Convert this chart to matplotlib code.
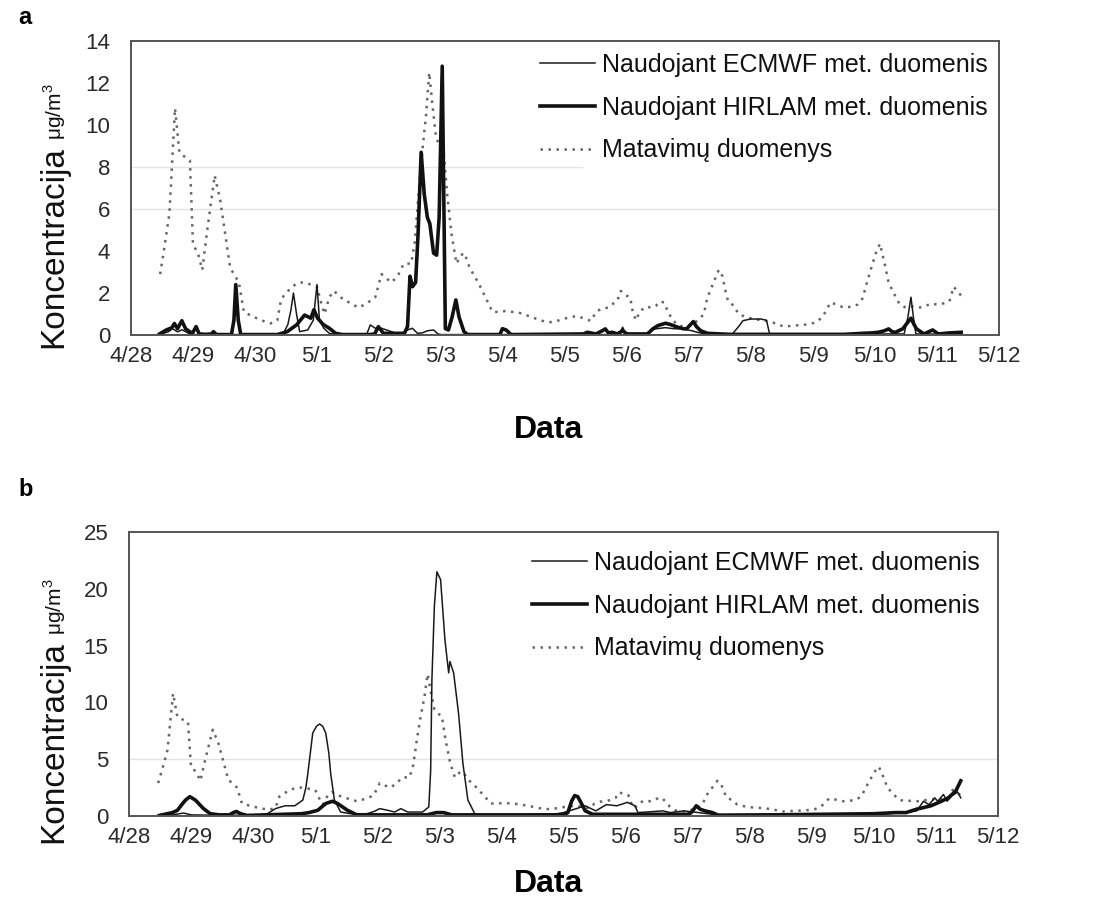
import matplotlib
matplotlib.use('Agg')
import matplotlib.pyplot as plt
from matplotlib.lines import Line2D

plt.rcParams['font.family'] = ['Liberation Sans', 'DejaVu Sans']

# ---------------- data ----------------
day_labels = ['4/28', '4/29', '4/30', '5/1', '5/2', '5/3', '5/4', '5/5',
              '5/6', '5/7', '5/8', '5/9', '5/10', '5/11', '5/12']
legend_labels = ['Naudojant ECMWF met. duomenis',
                 'Naudojant HIRLAM met. duomenis',
                 'Matavimų duomenys']

# measurements (days after 4/28 00:00)
meas_t = [0.47, 0.54, 0.62, 0.71, 0.78, 0.86, 0.95, 1.0, 1.08, 1.15, 1.23, 1.35, 1.44, 1.52,
          1.6, 1.68, 1.74, 1.82, 1.95, 2.1, 2.25, 2.36, 2.42, 2.5, 2.6, 2.7, 2.8, 2.9, 3.0,
          3.06, 3.12, 3.2, 3.27, 3.35, 3.42, 3.55, 3.67, 3.8, 3.94, 4.04, 4.12, 4.2, 4.3, 4.4,
          4.52, 4.58, 4.64, 4.7, 4.76, 4.81, 4.86, 4.92, 4.98, 5.04, 5.1, 5.17, 5.25, 5.32,
          5.38, 5.45, 5.52, 5.6, 5.7, 5.83, 5.95, 6.05, 6.15, 6.27, 6.37, 6.47, 6.6, 6.73,
          6.85, 6.96, 7.08, 7.19, 7.3, 7.42, 7.5, 7.6, 7.7, 7.78, 7.84, 7.9, 7.97, 8.05, 8.1,
          8.15, 8.2, 8.3, 8.4, 8.47, 8.53, 8.6, 8.66, 8.72, 8.8, 8.9, 9.0, 9.1, 9.18, 9.24,
          9.29, 9.34, 9.41, 9.48, 9.54, 9.58, 9.63, 9.72, 9.8, 9.92, 10.05, 10.2, 10.35,
          10.53, 10.7, 10.9, 11.05, 11.15, 11.22, 11.28, 11.38, 11.5, 11.62, 11.72, 11.8,
          11.87, 11.94, 12.02, 12.08, 12.14, 12.22, 12.3, 12.4, 12.5, 12.6, 12.7, 12.8,
          12.9, 13.0, 13.1, 13.2, 13.27, 13.35, 13.45]
meas_v = [2.9, 4.2, 5.8, 10.8, 8.7, 8.5, 8.3, 4.3, 3.9, 3.1, 5.0, 7.6, 6.4, 4.8,
          3.2, 2.8, 2.5, 1.1, 0.9, 0.7, 0.55, 0.7, 1.7, 2.0, 2.3, 2.5, 2.5, 2.4, 2.3,
          1.6, 1.0, 1.8, 2.1, 1.9, 1.7, 1.5, 1.3, 1.5, 1.8, 2.9, 2.7, 2.5, 2.8, 3.4,
          3.4, 4.5, 6.8, 8.8, 10.5, 12.5, 11.0, 9.4, 9.0, 8.8, 6.7, 4.8, 3.4, 3.8,
          3.9, 3.3, 2.9, 2.5, 1.9, 1.1, 1.1, 1.15, 1.1, 1.05, 0.95, 0.85, 0.7, 0.6,
          0.65, 0.75, 0.85, 0.9, 0.8, 0.67, 1.1, 1.27, 1.3, 1.5, 1.6, 2.1, 1.9, 1.8, 1.0,
          0.7, 1.1, 1.35, 1.3, 1.4, 1.6, 1.55, 1.1, 0.8, 0.5, 0.4, 0.45, 0.6, 0.8, 1.0,
          1.7, 2.1, 2.6, 3.1, 2.8, 2.2, 1.6, 1.4, 1.0, 0.85, 0.75, 0.7, 0.6,
          0.4, 0.45, 0.5, 0.6, 0.85, 1.2, 1.55, 1.45, 1.3, 1.35, 1.45, 1.75,
          2.5, 3.2, 3.95, 4.35, 3.6, 2.5, 2.0, 1.45, 1.3, 1.35, 1.3, 1.35,
          1.5, 1.45, 1.5, 1.6, 2.3, 2.0, 1.7]

# panel a: ECMWF model
a_ecmwf_t = [0.46, 0.6, 0.67, 0.75, 0.82, 0.88, 0.95, 1.0, 2.4, 2.46, 2.53, 2.58, 2.62, 2.67,
             2.72, 2.85, 2.94, 3.0, 3.04, 3.11, 3.2, 3.3, 3.8, 3.86, 3.94, 4.04, 4.2, 4.3,
             4.4, 4.46, 4.54, 4.62, 4.7, 4.78, 4.88, 4.95, 5.0, 7.8, 7.9, 7.93, 7.98, 8.3,
             8.45, 8.62, 8.75, 8.9, 9.05, 9.13, 9.3, 9.7, 9.8, 9.87, 9.99, 10.16, 10.25,
             10.3, 12.47, 12.53, 12.58, 12.62, 12.66, 13.39]
a_ecmwf_v = [0.02, 0.15, 0.3, 0.15, 0.25, 0.16, 0.05, 0.02, 0.02, 0.08, 0.5, 1.2, 2.0, 1.0,
             0.16, 0.24, 0.7, 2.4, 0.7, 0.32, 0.08, 0.02, 0.02, 0.48, 0.32, 0.32, 0.16, 0.05,
             0.1, 0.24, 0.32, 0.08, 0.1, 0.2, 0.24, 0.05, 0.02, 0.02, 0.2, 0.37, 0.05, 0.05,
             0.29, 0.35, 0.3, 0.29, 0.2, 0.13, 0.03, 0.05, 0.4, 0.68, 0.76, 0.76, 0.7,
             0.05, 0.05, 0.84, 1.8, 0.84, 0.05, 0.03]

# panel a: HIRLAM model
a_hirlam_t = [0.46, 0.57, 0.66, 0.7, 0.75, 0.82, 0.88, 0.95, 0.99, 1.05, 1.1, 1.2, 1.3, 1.33,
              1.38, 1.62, 1.66, 1.69, 1.73, 1.77, 2.36, 2.52, 2.67, 2.8, 2.9, 2.95, 3.01,
              3.1, 3.2, 3.3, 3.41, 3.85, 3.93, 3.99, 4.07, 4.41, 4.46, 4.5, 4.54, 4.59,
              4.63, 4.68, 4.73, 4.78, 4.82, 4.88, 4.93, 4.97, 5.02, 5.07, 5.12, 5.18, 5.24,
              5.29, 5.37, 5.43, 5.95, 5.99, 6.05, 6.13, 7.3, 7.36, 7.5, 7.6, 7.65, 7.7, 7.76,
              7.85, 7.93, 8.0, 8.33, 8.42, 8.5, 8.62, 8.7, 8.79, 8.9, 8.96, 9.07, 9.12, 9.19,
              9.3, 9.65, 11.5, 11.8, 11.95, 12.05, 12.15, 12.22, 12.28, 12.33, 12.45, 12.5,
              12.58, 12.63, 12.67, 12.79, 12.93, 13.02, 13.2, 13.39]
a_hirlam_v = [0.05, 0.24, 0.35, 0.55, 0.3, 0.68, 0.3, 0.15, 0.08, 0.4, 0.05, 0.03, 0.05, 0.16,
              0.02, 0.02, 0.7, 2.4, 0.7, 0.02, 0.02, 0.16, 0.48, 0.95, 0.8, 1.2, 0.8,
              0.5, 0.32, 0.08, 0.02, 0.02, 0.05, 0.4, 0.08, 0.08, 0.4, 2.8, 2.3, 2.5,
              4.8, 8.7, 6.7, 5.6, 5.3, 3.9, 3.8, 5.6, 12.8, 0.3, 0.24, 0.87, 1.67,
              0.87, 0.16, 0.02, 0.02, 0.3, 0.24, 0.02, 0.05, 0.13, 0.05, 0.2, 0.29, 0.1, 0.13,
              0.05, 0.2, 0.05, 0.05, 0.3, 0.45, 0.56, 0.5, 0.4, 0.3, 0.29, 0.64, 0.4, 0.2,
              0.08, 0.03, 0.03, 0.08, 0.1, 0.13, 0.2, 0.29, 0.15, 0.13, 0.3, 0.5,
              0.8, 0.5, 0.29, 0.05, 0.24, 0.05, 0.1, 0.13]

# panel b: ECMWF model
b_ecmwf_t = [0.49, 0.7, 0.88, 1.0, 1.5, 2.2, 2.36, 2.45, 2.52, 2.67, 2.8, 2.85, 2.88, 2.92,
             2.96, 3.02, 3.07, 3.12, 3.17, 3.22, 3.25, 3.31, 3.41, 3.57, 3.83, 3.95, 4.04,
             4.17, 4.28, 4.38, 4.49, 4.73, 4.83, 4.86, 4.88, 4.92, 4.96, 5.02, 5.09, 5.15,
             5.17, 5.23, 5.31, 5.38, 5.46, 5.57, 5.7, 6.84, 7.0, 7.18, 7.35, 7.52, 7.69,
             7.86, 8.03, 8.15, 8.2, 8.6, 8.72, 8.94, 9.1, 9.4, 12.0, 12.5, 12.69, 12.8,
             12.89, 12.98, 13.03, 13.12, 13.18, 13.26, 13.35, 13.4]
b_ecmwf_v = [0.05, 0.1, 0.26, 0.1, 0.05, 0.1, 0.65, 0.8, 0.9, 0.9, 1.4, 2.5, 3.7, 5.5,
             7.3, 7.9, 8.1, 7.9, 7.3, 5.5, 3.7, 1.4, 0.35, 0.2, 0.2, 0.4, 0.65,
             0.5, 0.35, 0.65, 0.35, 0.35, 0.8, 4.0, 12.0, 18.5, 21.5, 20.8, 15.5, 12.6,
             13.6, 12.6, 9.0, 4.6, 1.4, 0.2, 0.05, 0.15, 0.3, 0.6, 0.9, 0.45, 1.0,
             0.9, 1.2, 0.9, 0.3, 0.45, 0.3, 0.45, 0.35, 0.15, 0.15, 0.3, 0.45, 1.3,
             1.0, 1.6, 1.3, 1.9, 1.3, 1.8, 2.1, 1.6]

# panel b: HIRLAM model
b_hirlam_t = [0.49, 0.7, 0.78, 0.85, 0.91, 0.98, 1.07, 1.2, 1.31, 1.45, 1.62, 1.68, 1.73, 1.8,
              1.9, 2.78, 2.9, 3.04, 3.17, 3.28, 3.36, 3.52, 3.67, 4.8, 4.95, 5.07, 5.2, 7.0,
              7.07, 7.13, 7.18, 7.23, 7.27, 7.35, 7.47, 9.0, 9.06, 9.14, 9.2, 9.28, 9.4, 9.5,
              12.0, 12.35, 12.52, 12.69, 12.92, 13.09, 13.2, 13.32, 13.4]
b_hirlam_v = [0.05, 0.3, 0.5, 1.0, 1.4, 1.7, 1.4, 0.65, 0.2, 0.1, 0.1, 0.3, 0.4, 0.2,
              0.05, 0.2, 0.3, 0.5, 1.1, 1.3, 1.1, 0.5, 0.1, 0.1, 0.3, 0.3, 0.1, 0.1,
              0.3, 1.3, 1.8, 1.7, 1.3, 0.45, 0.15, 0.15, 0.3, 0.9, 0.6, 0.45, 0.3, 0.05,
              0.2, 0.3, 0.3, 0.6, 0.9, 1.3, 1.6, 2.2, 3.1]

# ---------------- figure ----------------
W, H = 1094, 906
fig = plt.figure(figsize=(W / 100, H / 100), dpi=100)


def px_axes(l, t, r, b):
    return fig.add_axes([l / W, 1 - b / H, (r - l) / W, (b - t) / H])


thin = dict(color='#1a1a1a', lw=1.1)
thick = dict(color='#111111', lw=2.6)
dots = dict(color='#666666', lw=1.8, linestyle=(0, (1, 2.2)))


def style_axes(ax, ymax, ystep):
    ax.set_xlim(0, 14)
    ax.set_ylim(0, ymax)
    ax.set_xticks(range(15))
    ax.set_xticklabels(day_labels)
    ax.set_yticks(range(0, ymax + 1, ystep))
    for s in ax.spines.values():
        s.set_color('#555555')
        s.set_linewidth(1.4)
    ax.tick_params(axis='both', length=0, labelsize=16, colors='#2a2a2a')
    ax.tick_params(axis='y', pad=15)
    ax.tick_params(axis='x', pad=8)


def add_legend(ax, x_px, top_px, l, t, r, b):
    handles = [Line2D([], [], **thin), Line2D([], [], **thick), Line2D([], [], **dots)]
    leg = ax.legend(handles, legend_labels, loc='upper left',
                    bbox_to_anchor=((x_px - l) / (r - l), 1 - (top_px - t) / (b - t)),
                    frameon=False, fontsize=18, handlelength=2.2, handletextpad=0.3,
                    labelspacing=0.75, borderpad=0, borderaxespad=0)
    for txt in leg.get_texts():
        txt.set_color('#111111')


def ylabel(x_px, y_px):
    t1 = fig.text(x_px / W, 1 - y_px / H, 'Koncentracija', rotation=90,
                  rotation_mode='anchor', ha='left', va='baseline', fontsize=24,
                  color='#111111')
    fig.canvas.draw()
    bb = t1.get_window_extent()
    fig.text(x_px / W, (bb.y1 + 6) / H, 'μg/m$^\\mathregular{3}$', rotation=90,
             rotation_mode='anchor', ha='left', va='baseline', fontsize=15,
             color='#111111')


# panel a
la, ta, ra, ba = 131, 41, 999, 335
ax1 = px_axes(la, ta, ra, ba)
ax1.axhline(6, color='#e4e4e4', lw=1.0, zorder=0)
ax1.axhline(8, xmax=0.52, color='#e4e4e4', lw=1.0, zorder=0)
ax1.plot(meas_t, meas_v, **dots)
ax1.plot(a_ecmwf_t, a_ecmwf_v, **thin)
ax1.plot(a_hirlam_t, a_hirlam_v, **thick)
style_axes(ax1, 14, 2)
add_legend(ax1, 540, 53, la, ta, ra, ba)

# panel b
lb, tb, rb, bb_ = 129, 532, 998, 816
ax2 = px_axes(lb, tb, rb, bb_)
ax2.axhline(5, color='#e4e4e4', lw=1.0, zorder=0)
ax2.plot(meas_t, meas_v, **dots)
ax2.plot(b_ecmwf_t, b_ecmwf_v, **thin)
ax2.plot(b_hirlam_t, b_hirlam_v, **thick)
style_axes(ax2, 25, 5)
add_legend(ax2, 532, 551, lb, tb, rb, bb_)

# labels
fig.text(18 / W, 1 - 18 / H, 'a', fontsize=17, fontweight='bold', ha='left', va='center')
fig.text(18 / W, 1 - 490 / H, 'b', fontsize=17, fontweight='bold', ha='left', va='center')
fig.text(548 / W, 1 - 430 / H, 'Data', fontsize=23, fontweight='bold', ha='center', va='center')
fig.text(548 / W, 1 - 884 / H, 'Data', fontsize=23, fontweight='bold', ha='center', va='center')
ylabel(62, 348)
ylabel(62, 843)

fig.savefig('out.png', dpi=100)
